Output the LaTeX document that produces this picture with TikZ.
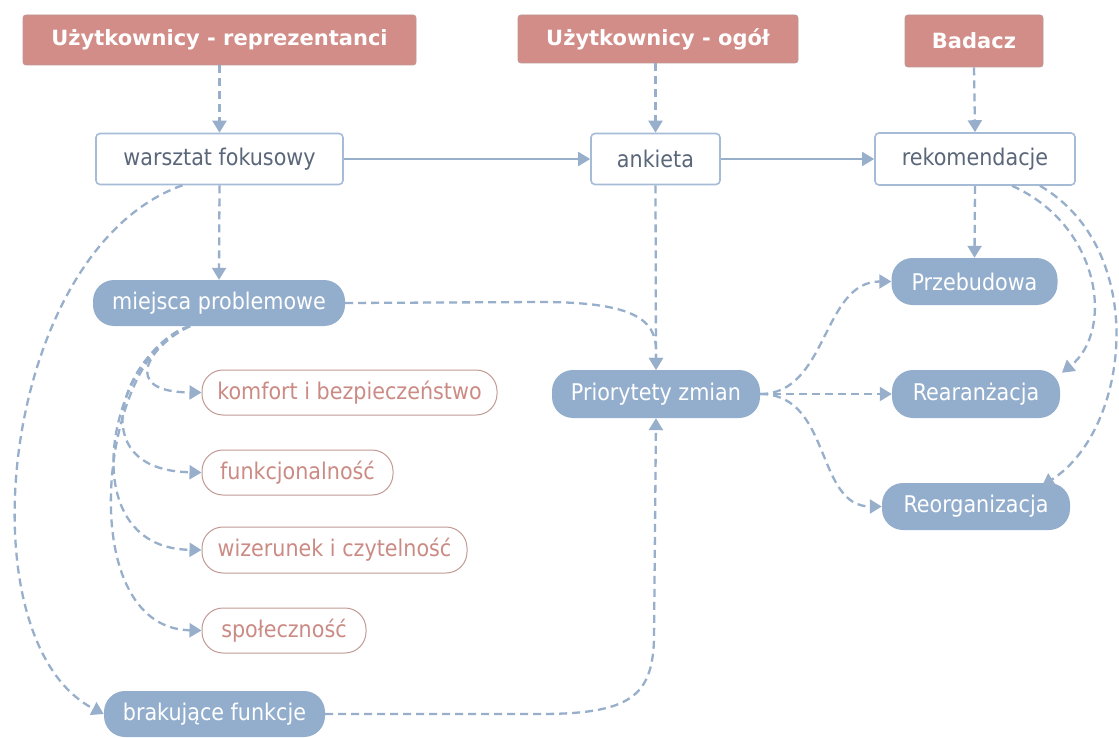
\documentclass[tikz,border=0pt]{standalone}
\usepackage{fontspec}
\setmainfont{DejaVu Sans Condensed}
\newfontfamily\hdfont{DejaVu Sans}
\usetikzlibrary{arrows.meta}
\definecolor{hdrc}{HTML}{D28D88}
\definecolor{hdrb}{HTML}{BF9894}
\definecolor{boxc}{HTML}{A6BBD6}
\definecolor{txtc}{HTML}{5A6679}
\definecolor{bluec}{HTML}{93AECD}
\definecolor{pinkb}{HTML}{C29A94}
\definecolor{pinkt}{HTML}{CB8B84}
\definecolor{linec}{HTML}{98AFCC}
\begin{document}
\begin{tikzpicture}[x=1pt,y=-1pt,
  hdr/.style={fill=hdrc, draw=hdrb, line width=0.8pt, rounded corners=3pt, text=white,
    font=\hdfont\bfseries\fontsize{21}{24}\selectfont, inner sep=0pt},
  wbox/.style={draw=boxc, fill=white, rounded corners=4pt, line width=1.6pt, text=txtc,
    font=\fontsize{23}{27}\selectfont, inner sep=0pt},
  bbox/.style={fill=bluec, rounded corners=21pt, text=white,
    font=\fontsize{23}{27}\selectfont, inner sep=0pt},
  pbox/.style={draw=pinkb, fill=white, rounded corners=21pt, line width=1pt, text=pinkt,
    font=\fontsize{23}{27}\selectfont, inner sep=0pt},
  dline/.style={draw=linec, line width=2.3pt, dash pattern=on 8pt off 5pt,
    -{Triangle[length=12pt,width=14pt]}},
  sline/.style={draw=linec, line width=1.8pt, -{Triangle[length=12pt,width=14pt]}}]
\useasboundingbox[fill=white] (0,0) rectangle (1119,738);

% headers
\node[hdr, minimum width=393pt, minimum height=50pt] (h1) at (219.5,40) {Użytkownicy - reprezentanci};
\node[hdr, minimum width=280pt, minimum height=48pt] (h2) at (658,39) {Użytkownicy - ogół};
\node[hdr, minimum width=138pt, minimum height=52pt] (h3) at (974,41) {Badacz};

% white boxes
\node[wbox, minimum width=247pt, minimum height=51pt] (ws) at (219.5,159) {warsztat fokusowy};
\node[wbox, minimum width=129pt, minimum height=51pt] (ank) at (655.5,159) {ankieta};
\node[wbox, minimum width=200pt, minimum height=52pt] (rek) at (975,159) {rekomendacje};

% blue boxes
\node[bbox, minimum width=252pt, minimum height=46pt] (mp) at (219,303) {miejsca problemowe};
\node[bbox, minimum width=221pt, minimum height=46pt] (bf) at (214.5,714) {brakujące funkcje};
\node[bbox, minimum width=208pt, minimum height=48pt] (pz) at (656,394) {Priorytety zmian};
\node[bbox, minimum width=166pt, minimum height=47pt] (prz) at (974.5,281.5) {Przebudowa};
\node[bbox, minimum width=168pt, minimum height=48pt] (rea) at (976,394) {Rearanżacja};
\node[bbox, minimum width=188pt, minimum height=47pt] (reo) at (976,506.5) {Reorganizacja};

% pink boxes
\node[pbox, minimum width=295pt, minimum height=45pt] (kb) at (349.5,392.5) {komfort i bezpieczeństwo};
\node[pbox, minimum width=191pt, minimum height=45pt] (fu) at (297.5,472.5) {funkcjonalność};
\node[pbox, minimum width=265pt, minimum height=46pt] (wc) at (334.5,550) {wizerunek i czytelność};
\node[pbox, minimum width=164pt, minimum height=45pt] (sp) at (284,630.5) {społeczność};

% top-down dashed
\draw[dline] (h1.south) -- (ws.north);
\draw[dline] (h2.south -| ank.north) -- (ank.north);
\draw[dline] (h3.south) -- (rek.north);

% solid flow
\draw[sline] (ws.east) -- (ank.west);
\draw[sline] (ank.east) -- (rek.west);

% warsztat branches
\draw[dline] (ws.south) -- (mp.north);
\draw[dline] ([xshift=-37pt]ws.south) .. controls (0,250) and (-40,640) .. (bf.west);

% miejsca problemowe sub-branches
\draw[dline] ([xshift=-29pt]mp.south) .. controls (150,345) and (118,392) .. (kb.west);
\draw[dline] ([xshift=-29pt]mp.south) .. controls (125,350) and (78,470) .. (fu.west);
\draw[dline] ([xshift=-29pt]mp.south) .. controls (110,350) and (68,548) .. (wc.west);
\draw[dline] ([xshift=-29pt]mp.south) .. controls (100,350) and (70,628) .. (sp.west);

% to priorities
\draw[dline] (mp.east) -- (540,302) .. controls (630,302) and (656,318) .. (656,350) -- (pz.north);
\draw[dline] (ank.south) -- (pz.north);
\draw[dline] (bf.east) -- (540,714) .. controls (630,714) and (652,696) .. (654,640) -- (pz.south);

% priorities out
\draw[dline] (pz.east) .. controls (828,394) and (822,281.5) .. (prz.west);
\draw[dline] (pz.east) -- (rea.west);
\draw[dline] (pz.east) .. controls (832,394) and (815,506.5) .. (reo.west);

% recommendations out
\draw[dline] (rek.south) -- (prz.north);
\draw[dline] ([xshift=37pt]rek.south) .. controls (1100,225) and (1115,330) .. ([xshift=86pt,yshift=-3pt]rea.north);
\draw[dline] ([xshift=65pt]rek.south) .. controls (1150,250) and (1130,430) .. ([xshift=66pt,yshift=-3pt]reo.north);
\end{tikzpicture}
\end{document}
